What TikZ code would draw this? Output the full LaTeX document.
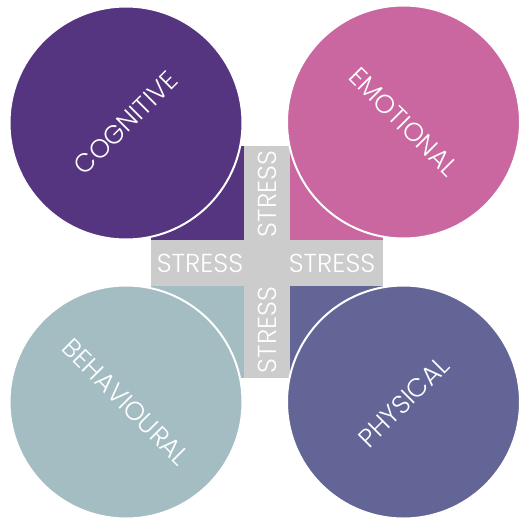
\documentclass[tikz,border=0pt]{standalone}
\usepackage{fontspec}
\setmainfont{Poppins Light}
\definecolor{cogfill}{HTML}{553480}
\definecolor{emofill}{HTML}{CA67A1}
\definecolor{behfill}{HTML}{A3BDC2}
\definecolor{phyfill}{HTML}{636597}
\definecolor{crossgray}{HTML}{CCCCCC}
\tikzset{
  bubble/.style={circle, minimum size=233pt, inner sep=0pt, draw=white, line width=2pt, text=white, font=\fontsize{26}{26}\selectfont},
  quarter/.style={draw=none},
  stresslabel/.style={text=white, inner sep=0pt, font=\fontsize{26}{26}\selectfont}
}
\begin{document}
\begin{tikzpicture}[x=1pt,y=-1pt]
  \useasboundingbox (0,0) rectangle (521,521);
  % coloured corners behind the cross
  \fill[cogfill] (151,146) rectangle (267,263);
  \fill[emofill] (267,146) rectangle (383,263);
  \fill[behfill] (151,263) rectangle (267,378);
  \fill[phyfill] (267,263) rectangle (383,378);
  % grey cross
  \fill[crossgray] (244,146) rectangle (290,378);
  \fill[crossgray] (151,240) rectangle (383,286);
  % stress labels on the arms
  \node[stresslabel] (sl) at (200,263) {STRESS};
  \node[stresslabel] (sr) at (332,263) {STRESS};
  \node[stresslabel, rotate=90] (st) at (267,194) {STRESS};
  \node[stresslabel, rotate=90] (sb) at (267,330) {STRESS};
  % the four circles
  \node[bubble, fill=cogfill, rotate=45] (cog) at (126,123) {COGNITIVE};
  \node[bubble, fill=emofill, rotate=-45] (emo) at (403.5,122) {EMOTIONAL};
  \node[bubble, fill=behfill, rotate=-45] (beh) at (126,402) {BEHAVIOURAL};
  \node[bubble, fill=phyfill, rotate=45] (phy) at (403.5,402) {PHYSICAL};
\end{tikzpicture}
\end{document}
